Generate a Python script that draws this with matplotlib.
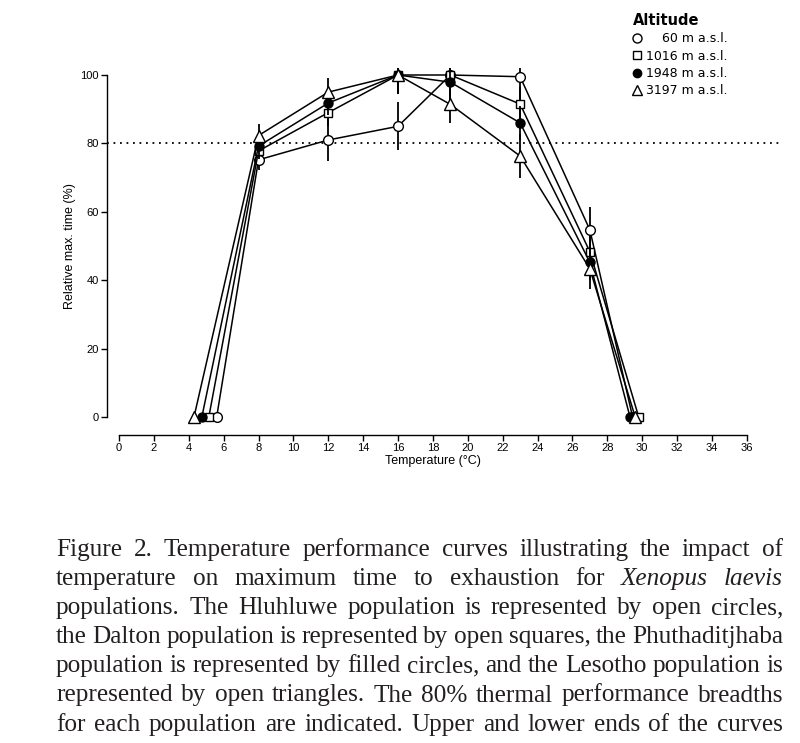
import matplotlib
matplotlib.use("Agg")
import matplotlib.pyplot as plt
from matplotlib.lines import Line2D

plt.rcParams["font.family"] = "Liberation Sans"

# temperatures (°C) of the middle points, shared by all populations
temps = [8, 12, 16, 19, 23, 27]

# per population: lower / upper critical temps (value 0) and relative max. time
labels = ["\u2007\u200760 m a.s.l.", "1016 m a.s.l.", "1948 m a.s.l.", "3197 m a.s.l."]
ctmin = [5.6, 5.15, 4.75, 4.3]
ctmax = [29.45, 29.8, 29.3, 29.6]
vals = [
    [75.2, 81.0, 85.0, 100.0, 99.5, 54.7],
    [77.8, 89.0, 100.0, 100.0, 91.5, 48.3],
    [79.2, 91.8, 100.0, 97.9, 86.0, 45.2],
    [82.3, 95.0, 100.0, 91.4, 76.3, 43.3],
]
errs = [
    [3.0, 6.0, 7.0, 6.0, 8.0, 6.8],
    [2.5, 4.0, 5.5, 5.0, 5.0, 5.0],
    [2.5, 3.5, 5.5, 5.0, 5.0, 5.0],
    [3.5, 4.0, 5.5, 5.5, 6.5, 6.0],
]
markers = ["o", "s", "o", "^"]
faces = ["white", "white", "black", "white"]
msizes = [7.0, 6.2, 6.5, 8.0]

caption = [
    "Figure 2. Temperature performance curves illustrating the impact of",
    "temperature on maximum time to exhaustion for *Xenopus *laevis",
    "populations. The Hluhluwe population is represented by open circles,",
    "the Dalton population is represented by open squares, the Phuthaditjhaba",
    "population is represented by filled circles, and the Lesotho population is",
    "represented by open triangles. The 80% thermal performance breadths",
    "for each population are indicated. Upper and lower ends of the curves",
]

W, H = 800, 743
fig = plt.figure(figsize=(W / 100, H / 100), dpi=100)
ax_l, ax_r, ax_b, ax_t = 107, 783, 435, 68
ax = fig.add_axes([ax_l / W, 1 - ax_b / H, (ax_r - ax_l) / W, (ax_b - ax_t) / H])

for i in range(4):
    xs = [ctmin[i]] + temps + [ctmax[i]]
    ys = [0] + vals[i] + [0]
    es = [0] + errs[i] + [0]
    ax.errorbar(xs, ys, yerr=es, fmt="-", color="black", lw=1.1,
                marker=markers[i], mfc=faces[i], mec="black", mew=1.0,
                ms=msizes[i], elinewidth=1.3, capsize=0, zorder=2 + i)

ax.axhline(80, color="black", lw=1.3, ls=(0, (1, 2.6)), zorder=1)

ax.set_xlim((ax_l - 119) / 17.44, (ax_r - 119) / 17.44)
ax.set_ylim(-(ax_b - 417) / 3.42, (417 - ax_t) / 3.42)
ax.spines["top"].set_visible(False)
ax.spines["right"].set_visible(False)
ax.spines["left"].set_bounds(0, 100)
ax.spines["bottom"].set_bounds(0, 36)
for s in ["left", "bottom"]:
    ax.spines[s].set_linewidth(1.0)
ax.set_xticks(range(0, 37, 2))
ax.set_yticks(range(0, 101, 20))
ax.tick_params(direction="out", length=4, width=1.0, labelsize=8, pad=2)

ax.set_xlabel("Temperature (°C)", fontsize=9, labelpad=1)
ax.set_ylabel("Relative max. time (%)", fontsize=9, labelpad=3)
ax.xaxis.label.set_x((433 - ax_l) / (ax_r - ax_l))
ax.yaxis.label.set_y((ax_b - 246) / (ax_b - ax_t))

handles = [Line2D([], [], ls="none", marker=markers[i], mfc=faces[i], mec="black",
                  mew=1.0, ms=msizes[i] - 0.5) for i in range(4)]
leg = fig.legend(handles, labels, loc="upper left", bbox_to_anchor=(624 / W, 1 - 4 / H),
                 frameon=False, title="Altitude", alignment="left",
                 prop={"family": "DejaVu Sans", "size": 9},
                 title_fontproperties={"family": "DejaVu Sans", "weight": "bold", "size": 10.5},
                 handlelength=0.7, handletextpad=0.35, labelspacing=0.35, borderpad=0.2)

# justified caption, placed word by word
renderer = fig.canvas.get_renderer()
left, right = 56, 783
for k, line in enumerate(caption):
    base = 556 + 29.1 * k
    words = line.split(" ")
    items = []
    for w in words:
        style = "italic" if w.startswith("*") else "normal"
        t = fig.text(0, 0, w.lstrip("*"), family="Liberation Serif", style=style,
                     fontsize=18.2, color="#231f20", va="baseline", ha="left")
        items.append((t, t.get_window_extent(renderer).width))
    total = sum(wd for _, wd in items)
    gap = (right - left - total) / (len(items) - 1)
    x = left
    for t, wd in items:
        t.set_position((x / W, 1 - base / H))
        x += wd + gap

fig.savefig("out.png", dpi=100)
